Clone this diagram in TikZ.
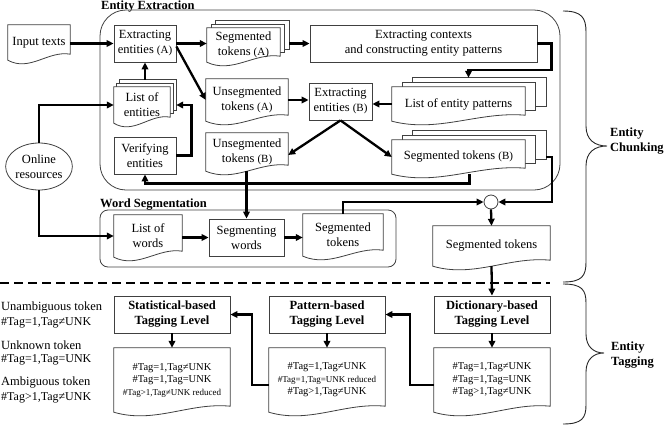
\documentclass[tikz,border=0pt]{standalone}
\usepackage{fontspec}
\setmainfont{Liberation Serif}
\usetikzlibrary{arrows.meta,calc,shapes.geometric}
\pgfdeclarelayer{bgA}
\pgfdeclarelayer{bgB}
\pgfsetlayers{bgA,bgB,main}
\newcommand\fs{\fontsize{12.5}{15}\selectfont}
\newcommand\fsbold{\fontsize{12.5}{15}\selectfont\bfseries}
\newcommand\fstag{\fontsize{10.5}{12.5}\selectfont}
\newcommand\fsred{\fontsize{9}{12.5}\selectfont}
\newcommand\fsab{\fontsize{11}{15}\selectfont}
\newcommand\fsleg{\fontsize{12}{14}\selectfont}
\newcommand\docout[1]{%
  \begin{pgfonlayer}{bgB}
  \filldraw[shp,fill=white] (#1.north west) -- (#1.north east) -- ($(#1.south east)+(0,-6)$)
    .. controls ($(#1.south west)!0.65!(#1.south east)+(0,-10)$) and ($(#1.south west)!0.35!(#1.south east)+(0,12)$) .. (#1.south west) -- cycle;
  \end{pgfonlayer}}
\newcommand\multidoc[3]{%
  \begin{pgfonlayer}{bgB}
  \foreach \k in {2,1}{\filldraw[shp,fill=white] ($(#1.north west)+(\k*#2,-\k*#3)$) rectangle ($(#1.south east)+(\k*#2,-6-\k*#3)$);}
  \end{pgfonlayer}
  \docout{#1}
  \coordinate (#1-bE) at ($(#1.east)+(2*#2,0)$);
  \coordinate (#1-bN) at ($(#1.north)+(2*#2,-2*#3)$);}
\begin{document}
\begin{tikzpicture}[x=1pt,y=-1pt,
  shp/.style={draw=black!75,line width=0.8pt},
  rbox/.style={shp,fill=white,rectangle,inner sep=0pt,align=center,font=\fs},
  dnode/.style={rectangle,inner sep=0pt,align=center,font=\fs},
  conn/.style={line width=2.3pt,-{Triangle[length=7pt,width=6.5pt]}},
  thickline/.style={line width=2.3pt},
  brace/.style={draw=black!85,line width=0.9pt},
  lbl/.style={font=\fsbold,inner sep=0pt},
  leg/.style={font=\fsleg,inner sep=0pt,anchor=west},
]
\useasboundingbox (0,0) rectangle (667,426);
% containers
\begin{pgfonlayer}{bgA}
\node[shp,rounded corners=26pt,minimum width=460pt,minimum height=180pt,inner sep=0pt] (EE) at (330,100) {};
\node[shp,rounded corners=8pt,minimum width=296pt,minimum height=57pt,inner sep=0pt] (WS) at (248,238.5) {};
\end{pgfonlayer}
\node[lbl,anchor=base west] (EElbl) at (101,9.5) {Entity Extraction};
\node[lbl,anchor=base west] (WSlbl) at (100,207) {Word Segmentation};

% entity extraction
\node[dnode,minimum width=62pt,minimum height=35pt] (InTxt) at (39,42.5) {Input texts};
\docout{InTxt}
\node[rbox,minimum width=62pt,minimum height=37pt] (ExtA) at (145,43.5) {Extracting\\entities {\fsab(A)}};
\node[dnode,minimum width=73pt,minimum height=34pt] (SegA) at (243.5,45) {Segmented\\tokens {\fsab(A)}};
\multidoc{SegA}{4.5}{3.5}
\node[rbox,minimum width=227pt,minimum height=37pt] (Ctx) at (423.5,43.5) {Extracting contexts\\and constructing entity patterns};
\node[dnode,minimum width=56pt,minimum height=36pt] (ListE) at (142,105) {List of\\entities};
\multidoc{ListE}{3}{3.5}
\node[dnode,minimum width=82pt,minimum height=42pt] (UnsA) at (247,100) {Unsegmented\\tokens {\fsab(A)}};
\docout{UnsA}
\node[rbox,minimum width=63pt,minimum height=37pt] (ExtB) at (340.5,101.5) {Extracting\\entities {\fsab(B)}};
\node[dnode,minimum width=133pt,minimum height=34pt] (LEP) at (458.5,104) {List of entity patterns};
\multidoc{LEP}{10.5}{4.5}
\node[rbox,minimum width=62pt,minimum height=37pt] (Verif) at (145,155.5) {Verifying\\entities};
\node[dnode,minimum width=82pt,minimum height=38pt] (UnsB) at (247,152) {Unsegmented\\tokens {\fsab(B)}};
\docout{UnsB}
\node[dnode,minimum width=133pt,minimum height=34pt] (SegB) at (458.5,157) {Segmented tokens {\fsab(B)}};
\multidoc{SegB}{10.5}{4.5}
\node[shp,ellipse,fill=white,inner sep=0pt,minimum width=62pt,minimum height=47pt,align=center,font=\fs] (Online) at (39,166.5) {Online\\resources};

% word segmentation
\node[dnode,minimum width=68pt,minimum height=42pt] (ListW) at (148,236) {List of\\words};
\docout{ListW}
\node[rbox,minimum width=75pt,minimum height=37pt] (SegW) at (246.5,237.5) {Segmenting\\words};
\node[dnode,minimum width=80pt,minimum height=42pt] (SegT) at (343,235) {Segmented\\tokens};
\docout{SegT}
\node[shp,circle,fill=white,minimum size=14pt,inner sep=0pt] (Circ) at (491,202) {};
\node[dnode,minimum width=117pt,minimum height=40pt] (SegF) at (491.5,246) {Segmented tokens};
\docout{SegF}

% tagging
\node[rbox,font=\fsbold,minimum width=116pt,minimum height=37pt] (Dict) at (492,314.5) {Dictionary-based\\Tagging Level};
\node[rbox,font=\fsbold,minimum width=116pt,minimum height=37pt] (Pat) at (327,314.5) {Pattern-based\\Tagging Level};
\node[rbox,font=\fsbold,minimum width=116pt,minimum height=37pt] (Stat) at (172,314.5) {Statistical-based\\Tagging Level};
\node[dnode,font=\fstag,minimum width=116pt,minimum height=64pt] (DictD) at (492,380) {\#Tag=1,Tag≠UNK\\\#Tag=1,Tag=UNK\\\#Tag>1,Tag≠UNK};
\docout{DictD}
\node[dnode,font=\fstag,minimum width=116pt,minimum height=64pt] (PatD) at (327,380) {\#Tag=1,Tag≠UNK\\{\fsred\#Tag=1,Tag=UNK reduced}\\\#Tag>1,Tag≠UNK};
\docout{PatD}
\node[dnode,font=\fstag,minimum width=116pt,minimum height=64pt] (StatD) at (172,380) {\#Tag=1,Tag≠UNK\\\#Tag=1,Tag=UNK\\{\fsred\#Tag>1,Tag≠UNK reduced}};
\docout{StatD}

% legend
\node[leg,font=\fs] (L1) at (1,308) {Unambiguous token};
\node[leg] (L2) at (1,323) {\#Tag=1,Tag≠UNK};
\node[leg,font=\fs] (L3) at (1,345) {Unknown token};
\node[leg] (L4) at (1,360) {\#Tag=1,Tag=UNK};
\node[leg,font=\fs] (L5) at (1,383) {Ambiguous token};
\node[leg] (L6) at (1,398) {\#Tag>1,Tag≠UNK};

% connectors
\draw[conn] (InTxt.east|-ExtA.west) -- (ExtA.west);
\draw[conn] (ExtA.east) -- (SegA.west|-ExtA.east);
\draw[conn] ($(ExtA.east)+(0,3)$) -- (UnsA.west);
\draw[conn] (SegA-bE|-Ctx.west) -- (Ctx.west);
\coordinate (LEPin) at ($(LEP.north)+(10,-9)$);
\draw[conn] (Ctx.east) -- ++(14,0) |- ($(LEPin)+(0,-8)$) -- (LEPin);
\draw[conn] (ListE-bN-|ExtA.south) -- (ExtA.south);
\draw[conn] (UnsA.east) -- (ExtB.west|-UnsA.east);
\draw[conn] (LEP.west) -- (ExtB.east|-LEP.west);
\draw[conn] (ExtB.south) -- ($(UnsB.east)+(0,3)$);
\draw[conn] (ExtB.south) -- (SegB.west);
\draw[conn] ($(SegB.south)+(11,0)$) |- ($(Verif.south)+(0,9)$) -- (Verif.south);
\draw[conn] (Verif.east) -- ++(15,0) |- (ListE-bE);
\draw[conn] (Online.north) |- (ListE.west);
\draw[conn] (Online.south) |- (ListW.west);
\draw[conn] (UnsB.south-|SegW.north) -- (SegW.north);
\draw[conn] (ListW.east|-SegW.west) -- (SegW.west);
\draw[conn] (SegW.east) -- (SegT.west|-SegW.east);
\draw[conn] (SegT.north) |- (Circ.west);
\draw[conn] (SegB-bE) -- ++(6,0) |- (Circ.east);
\draw[conn] (Circ.south) -- (SegF.north);
\draw[conn] (SegF.south) -- (Dict.north);
\draw[conn] (Dict.south) -- (DictD.north);
\draw[conn] (Pat.south) -- (PatD.north);
\draw[conn] (Stat.south) -- (StatD.north);
\draw[conn] ($(DictD.west)+(0,5)$) -- ++(-24,0) |- (Pat.east);
\draw[conn] ($(PatD.west)+(0,5)$) -- ++(-17,0) |- (Stat.east);

% dashed separator
\coordinate (DL) at (0,283);
\coordinate (DR) at (550,283);
\draw[thickline,dash pattern=on 9pt off 5pt] (DL) -- (DR);

% braces
\draw[brace] (563,11) .. controls (582,11) and (586,18) .. (586,32) -- (586,126) .. controls (586,140) and (595,146) .. (607,146) .. controls (595,146) and (586,152) .. (586,166) -- (586,262) .. controls (586,276) and (582,282) .. (563,282);
\draw[brace] (563,284) .. controls (582,284) and (586,290) .. (586,303) -- (586,334) .. controls (586,347) and (594,353) .. (604,353) .. controls (594,353) and (586,359) .. (586,372) -- (586,405) .. controls (586,418) and (582,424) .. (563,424);
\node[lbl,anchor=west,align=left] (EC) at (610,141) {Entity\\Chunking};
\node[lbl,anchor=west,align=left] (ET) at (611,355) {Entity\\Tagging};
\end{tikzpicture}
\end{document}
